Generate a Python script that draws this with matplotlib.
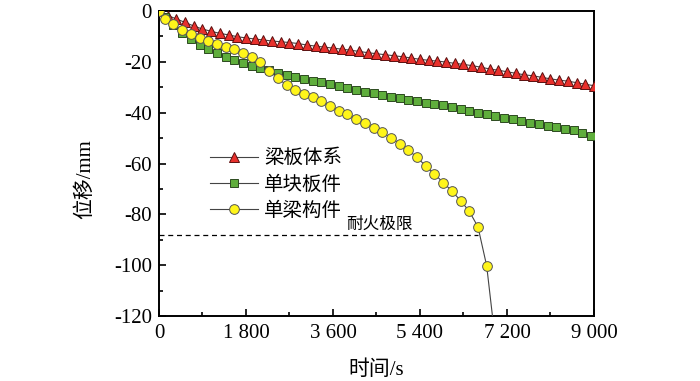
import numpy as np
import matplotlib
matplotlib.use("Agg")
import matplotlib.pyplot as plt
from matplotlib.ticker import MultipleLocator, FixedLocator

plt.rcParams['font.family'] = ['Liberation Serif', 'Noto Sans CJK SC']

# ---------------- data ----------------
# 梁板体系 : markers every 180 s
t_beam_slab = np.arange(0, 9001, 180)
d_beam_slab = [0, -1.8, -3.1, -4.5, -5.9, -7.1, -8.0, -8.8, -9.4, -10.1,
               -10.6, -11.0, -11.4, -11.8, -12.1, -12.4, -12.8, -13.4, -13.8, -14.2,
               -14.6, -15.0, -15.4, -15.9, -16.4, -16.8, -17.2, -17.6, -18.0, -18.5,
               -19.0, -19.4, -19.7, -20.1, -20.6, -21.0, -21.5, -22.1, -22.8, -23.3,
               -23.9, -24.5, -25.1, -25.5, -26.1, -26.7, -27.2, -27.6, -28.2, -28.8,
               -29.4]

# 单块板件
t_slab = [0] + list(range(120, 9000, 180))
d_slab = [0, -2.5, -5.5, -8.8, -11.0, -13.2, -14.8, -16.4, -18.0, -19.3,
          -20.4, -21.6, -22.5, -23.4, -24.3, -25.2, -26.1, -26.9, -27.4, -28.1,
          -28.6, -29.4, -30.3, -31.0, -31.7, -32.4, -33.0, -33.7, -34.3, -35.0,
          -35.4, -36.0, -36.6, -37.0, -37.8, -38.7, -39.4, -40.0, -40.6, -41.3,
          -42.0, -42.6, -43.3, -43.9, -44.5, -45.2, -45.8, -46.3, -46.8, -48.1,
          -49.2]

# 单梁构件 (last two points only continue the line past the axis bottom)
t_beam = [0] + list(range(120, 6781, 180)) + [6900, 6930]
d_beam = [0, -3.1, -5.2, -7.5, -9.2, -10.8, -11.8, -13.1, -14.0, -15.1,
          -16.4, -18.0, -20.2, -23.5, -26.5, -29.1, -31.1, -32.6, -34.0, -35.6,
          -37.3, -39.2, -40.6, -42.5, -44.1, -46.0, -47.8, -49.8, -52.2, -54.7,
          -57.6, -61.0, -64.1, -67.5, -70.8, -74.6, -78.8, -84.9, -100.2,
          -120.0, -126.0]
n_beam_markers = 39

fire_limit_time = 6600
fire_limit_disp = -88

x_ticks = [0, 1800, 3600, 5400, 7200, 9000]
x_tick_labels = ["0", "1 800", "3 600", "5 400", "7 200", "9 000"]
y_ticks = [0, -20, -40, -60, -80, -100, -120]
y_tick_labels = ["0", "-20", "-40", "-60", "-80", "-100", "-120"]

# ---------------- plot ----------------
fig = plt.figure(figsize=(7, 3.81), dpi=100)
ax = fig.add_axes([0.2271, 0.1706, 0.6214, 0.8005])

line_c = "#444444"
ax.plot(t_beam_slab, d_beam_slab, color=line_c, lw=0.8, marker="^", ms=7.5,
        mfc="#e8302c", mec="#5a1010", mew=0.7, label="梁板体系", zorder=3)
ax.plot(t_slab, d_slab, color=line_c, lw=0.8, marker="s", ms=6.2,
        mfc="#5fae3c", mec="#2c4a20", mew=0.7, label="单块板件", zorder=3)
ax.plot(t_beam, d_beam, color=line_c, lw=0.8, marker="o", ms=7,
        mfc="#fff51a", mec="#555555", mew=0.7, markevery=range(n_beam_markers),
        label="单梁构件", zorder=4)

ax.hlines(fire_limit_disp, 0, fire_limit_time, colors="black", lw=0.9,
          linestyles=(0, (4, 3)), zorder=2)
ax.text(3880, fire_limit_disp + 0.6, "耐火极限", fontsize=12,
        ha="left", va="bottom")

ax.set_xlim(0, 9000)
ax.set_ylim(-120, 0)
ax.xaxis.set_major_locator(FixedLocator(x_ticks))
ax.set_xticklabels(x_tick_labels)
ax.yaxis.set_major_locator(FixedLocator(y_ticks))
ax.set_yticklabels(y_tick_labels)
ax.xaxis.set_minor_locator(MultipleLocator(900))
ax.yaxis.set_minor_locator(MultipleLocator(10))
ax.tick_params(which="both", direction="in", width=1.2, labelsize=15)
ax.tick_params(which="major", length=5)
ax.tick_params(which="minor", length=3)
ax.tick_params(axis="x", pad=6)
ax.tick_params(axis="y", pad=5)
for s in ax.spines.values():
    s.set_linewidth(1.4)

ax.set_xlabel("时间/s", fontsize=15, va="center", ha="center")
ax.set_ylabel("位移/mm", fontsize=15, va="center", ha="center")
ax.xaxis.set_label_coords(0.5, -0.177)
ax.yaxis.set_label_coords(-0.17, 0.45)

leg = ax.legend(loc="upper left", bbox_to_anchor=(0.117, 0.548), frameon=False,
                fontsize=14, borderpad=0, borderaxespad=0, handlelength=2.5,
                handletextpad=0.3, labelspacing=0.4)

fig.savefig("out.png", dpi=100)
